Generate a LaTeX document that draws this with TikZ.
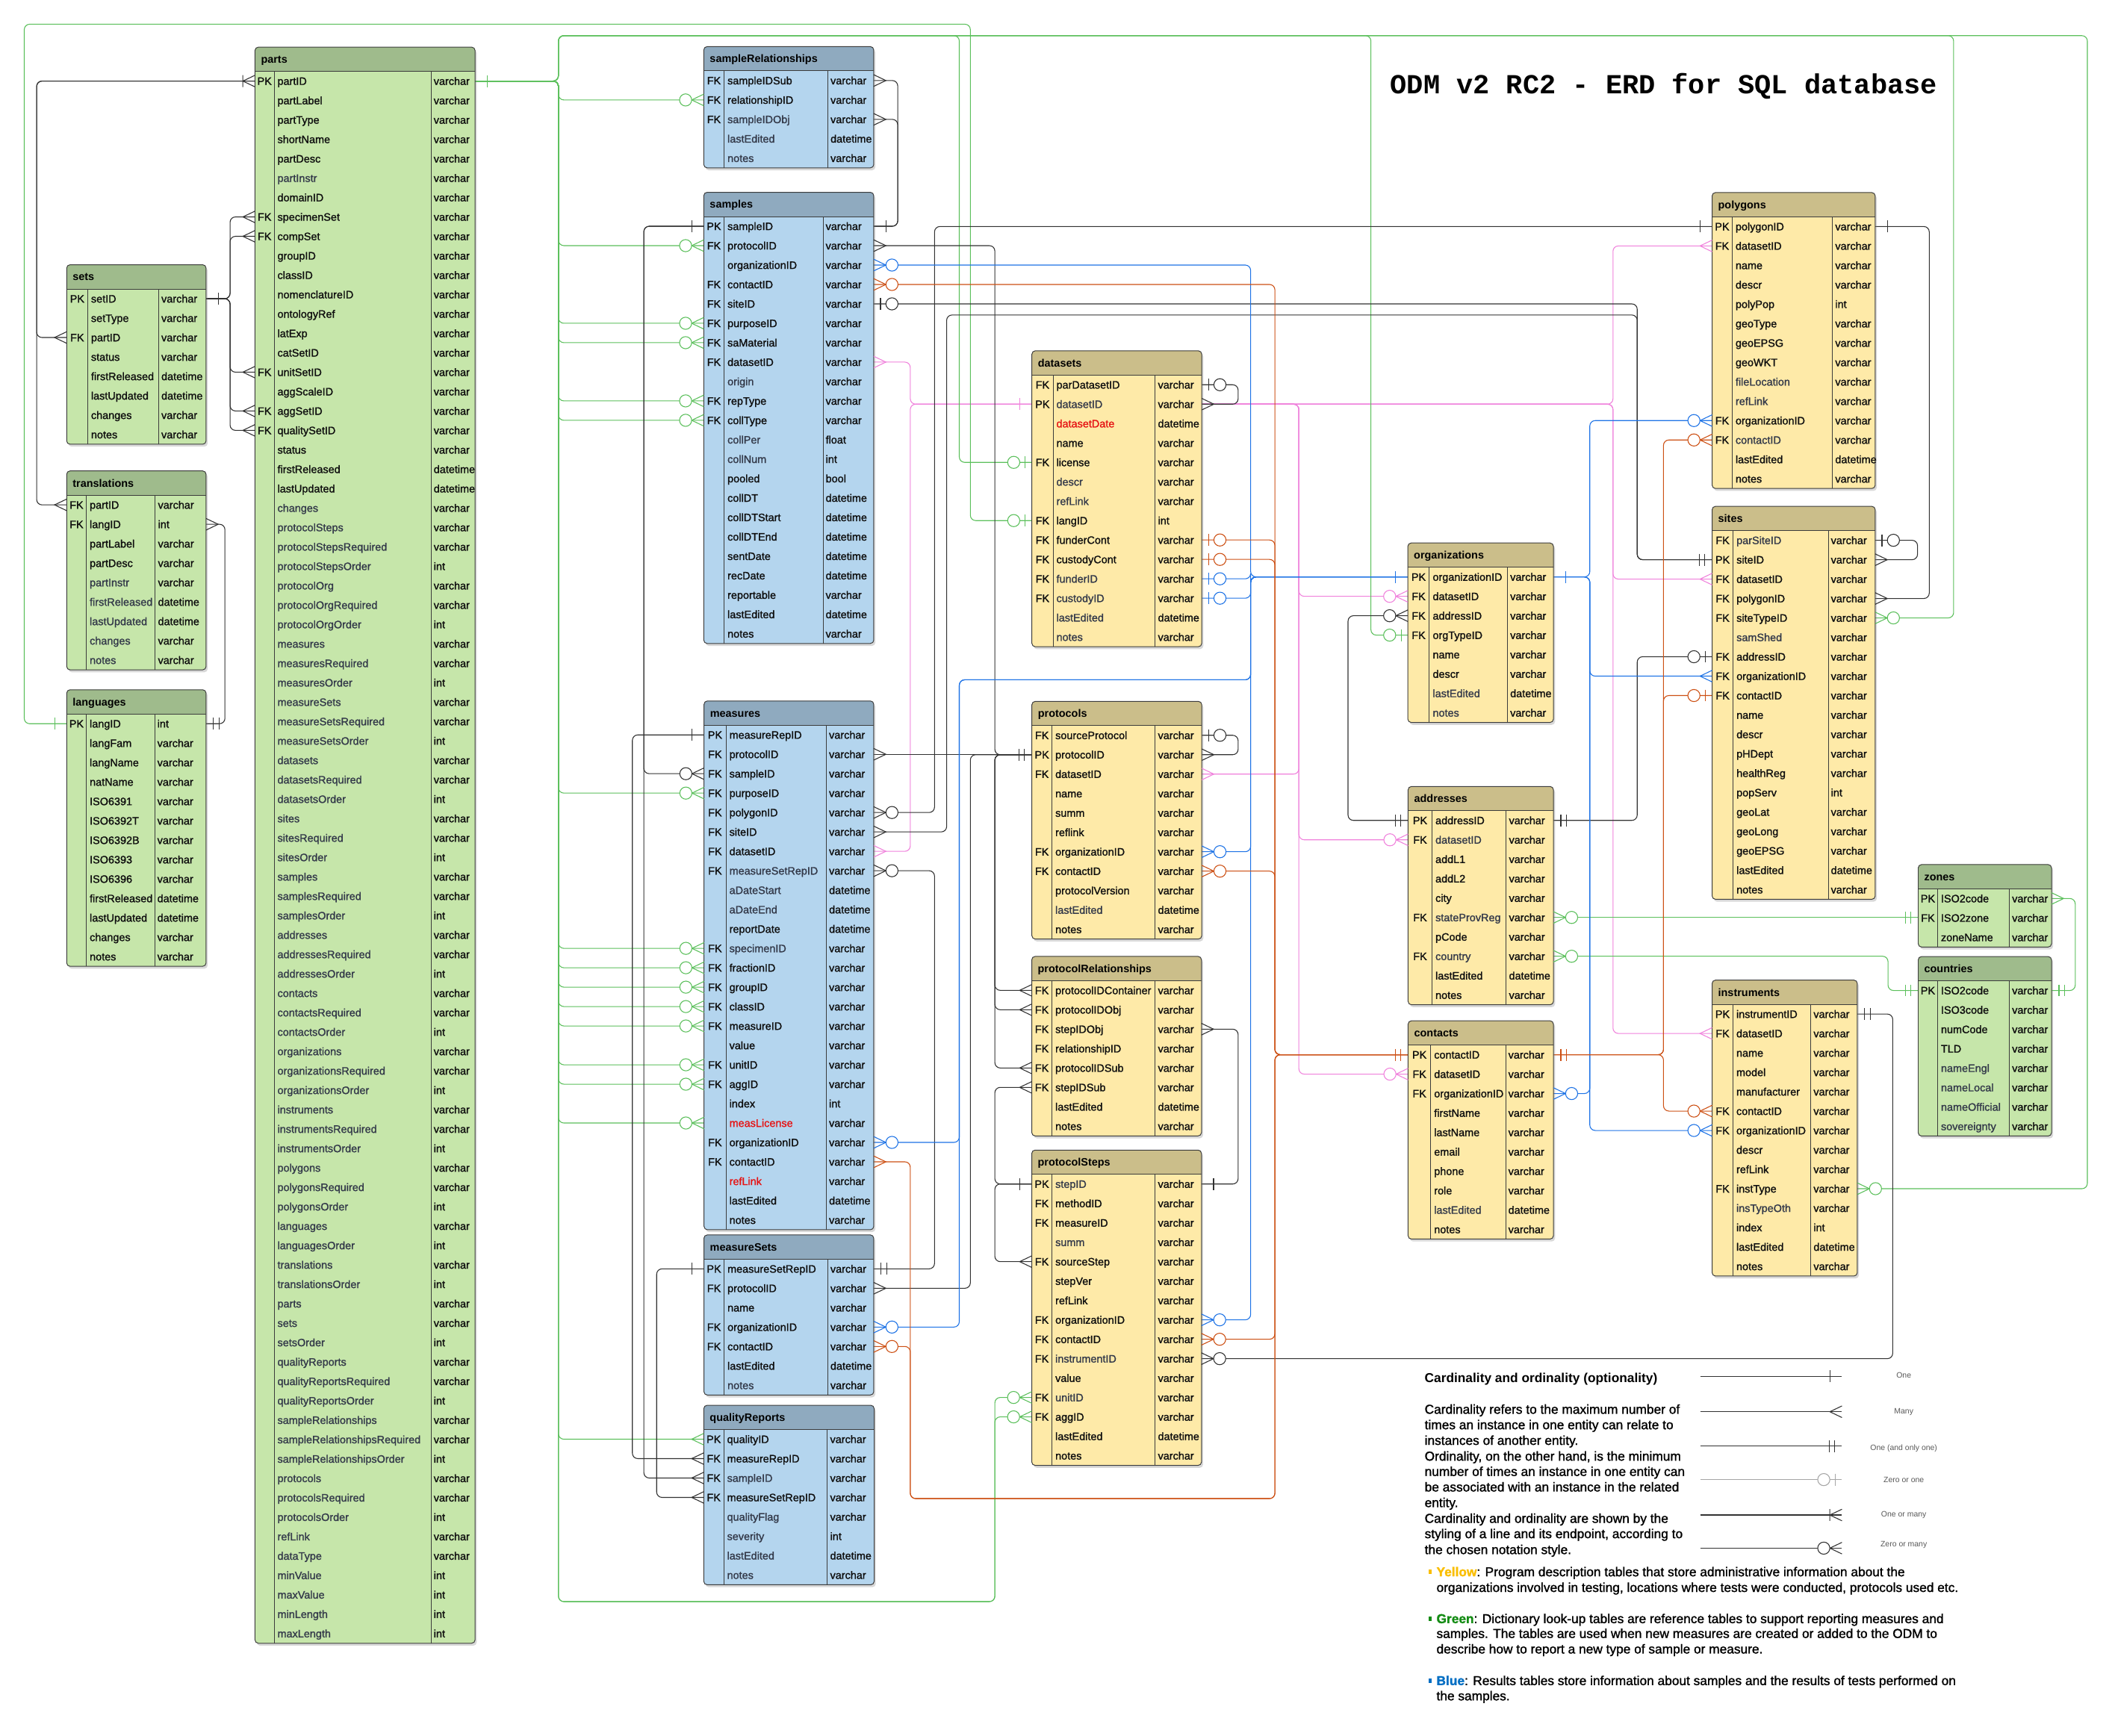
\documentclass[tikz,border=0pt]{standalone}
\usepackage{fontspec}
\setmainfont{Liberation Sans}
\newfontfamily\erdfont{Liberation Sans}[FakeBold=1.4]
\newfontfamily\titlefont{Liberation Mono}
\usetikzlibrary{shadows}
\pgfdeclarelayer{bg}
\pgfsetlayers{bg,main}
\definecolor{gbody}{RGB}{198,230,170}
\definecolor{ghead}{RGB}{159,187,140}
\definecolor{bbody}{RGB}{180,213,238}
\definecolor{bhead}{RGB}{143,170,191}
\definecolor{ybody}{RGB}{254,234,168}
\definecolor{yhead}{RGB}{203,190,138}
\definecolor{bordc}{RGB}{60,60,60}
\definecolor{nt}{RGB}{15,15,15}
\definecolor{gt}{RGB}{52,58,74}
\definecolor{rt}{RGB}{230,20,20}
\definecolor{gcol}{RGB}{92,192,92}
\definecolor{bcol}{RGB}{50,50,50}
\definecolor{ucol}{RGB}{30,115,230}
\definecolor{ocol}{RGB}{205,80,20}
\definecolor{pcol}{RGB}{240,130,220}
\definecolor{lyel}{RGB}{250,190,0}
\definecolor{lgre}{RGB}{20,140,20}
\definecolor{lblu}{RGB}{0,110,195}
\tikzset{
 tborder/.style={draw=bordc, line width=0.55pt},
 titletext/.style={inner sep=0pt, outer sep=0pt, anchor=west, text height=5.7pt, text depth=0pt, font=\bfseries\fontsize{8}{9}\selectfont, text=black},
 rowtext/.style={inner sep=0pt, outer sep=0pt, anchor=west, text height=5.7pt, text depth=0pt, font=\erdfont\fontsize{8}{9}\selectfont, text=nt},
 conn/.style={line width=0.6pt, rounded corners=4pt},
 gconn/.style={conn, draw=gcol},
 bconn/.style={conn, draw=bcol},
 uconn/.style={conn, draw=ucol},
 oconn/.style={conn, draw=ocol},
 pconn/.style={conn, draw=pcol},
 lgtext/.style={inner sep=0pt, outer sep=0pt, anchor=base west, font=\erdfont\fontsize{9.6}{11}\selectfont},
 lglabel/.style={inner sep=0pt, outer sep=0pt, anchor=center, font=\fontsize{5.8}{6.5}\selectfont, text=black!65},
}
% #1 name #2 left #3 top #4 right #5 keydiv #6 typediv #7 scheme #8 title #9 rows
\newcommand\erdtable[9]{%
  \gdef\erdn{0}%
  \foreach \erdk/\erdv/\erdt/\erdc [count=\erdi] in {#9}{\xdef\erdn{\erdi}}%
  \pgfmathsetmacro\erdhb{#3+18}%
  \pgfmathsetmacro\erdbot{#3+18+\erdn*14.41}%
  \fill[#7body, rounded corners=2.5pt, drop shadow={shadow xshift=1.2pt, shadow yshift=-1.8pt, opacity=0.3}] (#2,#3) rectangle (#4,\erdbot);
  \begin{scope}
    \clip (#2-2,#3-2) rectangle (#4+2,\erdhb);
    \fill[#7head, rounded corners=2.5pt] (#2,#3) rectangle (#4,\erdbot);
  \end{scope}
  \draw[tborder] (#2,\erdhb) -- (#4,\erdhb) (#5,\erdhb) -- (#5,\erdbot) (#6,\erdhb) -- (#6,\erdbot);
  \draw[tborder, rounded corners=2.5pt] (#2,#3) rectangle (#4,\erdbot);
  \node[titletext] (#1-title) at (#2+4.5,#3+9) {#8};
  \foreach \erdk/\erdv/\erdt/\erdc [count=\erdi] in {#9}{%
    \pgfmathsetmacro\erdy{\erdhb+(\erdi-0.5)*14.41}%
    \coordinate (#1-\erdi-w) at (#2,\erdy);
    \coordinate (#1-\erdi-e) at (#4,\erdy);
    \node[rowtext, anchor=center] (#1-k\erdi) at ({(#2+#5)/2},\erdy) {\erdk};
    \node[rowtext, text=\erdc] (#1-n\erdi) at (#5+2.5,\erdy) {\erdv};
    \node[rowtext] (#1-t\erdi) at (#6+2,\erdy) {\erdt};
  }%
}
\newcommand\erdsymone{\draw (9,-4.4) -- (9,4.4);}
\newcommand\erdsymoneonly{\draw (5.5,-4.4) -- (5.5,4.4) (9.5,-4.4) -- (9.5,4.4);}
\newcommand\erdsymmany{\draw (0,-4.3) -- (9,0) -- (0,4.3);}
\newcommand\erdsymonemany{\draw (0,-4.3) -- (9,0) -- (0,4.3) (9,-4.4) -- (9,4.4);}
\newcommand\erdsymzeromany{\draw (0,-4.3) -- (9,0) -- (0,4.3); \draw[fill=white] (13.5,0) circle[radius=4.5];}
\newcommand\erdsymzeroone{\draw (5,-4.4) -- (5,4.4); \draw[fill=white] (13.5,0) circle[radius=4.5];}
\newcommand\erdend[4]{%
  \begin{scope}[shift={(#1)}, xscale=#2, line width=0.6pt, draw=#4]
    \csname erdsym#3\endcsname
  \end{scope}}
\newcommand\erdends[4]{\foreach \endc in {#4}{\erdend{\endc}{#2}{#3}{#1}}}
\newcommand\viaX[4][]{\draw[#1] (#2) -- (#2 -| #3) -- (#4 -| #3) -- (#4);}
\begin{document}
\begin{tikzpicture}[x=1pt,y=-1pt]
\useasboundingbox (0,0) rectangle (1568,1289.1);
\begin{pgfonlayer}{bg}
\fill[white] (0,0) rectangle (1568,1289.1);
\end{pgfonlayer}
% ================= tables =================
\erdtable{parts}{189.3}{35}{352.7}{203.5}{320}{g}{parts}{%
PK/partID/varchar/nt,/partLabel/varchar/nt,/partType/varchar/nt,/shortName/varchar/nt,/partDesc/varchar/nt,/partInstr/varchar/gt,/domainID/varchar/nt,FK/specimenSet/varchar/nt,FK/compSet/varchar/nt,/groupID/varchar/nt,/classID/varchar/nt,/nomenclatureID/varchar/nt,/ontologyRef/varchar/nt,/latExp/varchar/nt,/catSetID/varchar/nt,FK/unitSetID/varchar/nt,/aggScaleID/varchar/nt,FK/aggSetID/varchar/nt,FK/qualitySetID/varchar/nt,/status/varchar/nt,/firstReleased/datetime/nt,/lastUpdated/datetime/nt,/changes/varchar/gt,/protocolSteps/varchar/gt,/protocolStepsRequired/varchar/gt,/protocolStepsOrder/int/gt,/protocolOrg/varchar/gt,/protocolOrgRequired/varchar/gt,/protocolOrgOrder/int/gt,/measures/varchar/gt,/measuresRequired/varchar/gt,/measuresOrder/int/gt,/measureSets/varchar/gt,/measureSetsRequired/varchar/gt,/measureSetsOrder/int/gt,/datasets/varchar/gt,/datasetsRequired/varchar/gt,/datasetsOrder/int/gt,/sites/varchar/gt,/sitesRequired/varchar/gt,/sitesOrder/int/gt,/samples/varchar/gt,/samplesRequired/varchar/gt,/samplesOrder/int/gt,/addresses/varchar/gt,/addressesRequired/varchar/gt,/addressesOrder/int/gt,/contacts/varchar/gt,/contactsRequired/varchar/gt,/contactsOrder/int/gt,/organizations/varchar/gt,/organizationsRequired/varchar/gt,/organizationsOrder/int/gt,/instruments/varchar/gt,/instrumentsRequired/varchar/gt,/instrumentsOrder/int/gt,/polygons/varchar/gt,/polygonsRequired/varchar/gt,/polygonsOrder/int/gt,/languages/varchar/gt,/languagesOrder/int/gt,/translations/varchar/gt,/translationsOrder/int/gt,/parts/varchar/gt,/sets/varchar/gt,/setsOrder/int/gt,/qualityReports/varchar/gt,/qualityReportsRequired/varchar/gt,/qualityReportsOrder/int/gt,/sampleRelationships/varchar/gt,/sampleRelationshipsRequired/varchar/gt,/sampleRelationshipsOrder/int/gt,/protocols/varchar/gt,/protocolsRequired/varchar/gt,/protocolsOrder/int/gt,/refLink/varchar/gt,/dataType/varchar/gt,/minValue/int/gt,/maxValue/int/gt,/minLength/int/gt,/maxLength/int/gt}
\erdtable{sets}{49.5}{196.6}{153}{65.1}{117.8}{g}{sets}{%
PK/setID/varchar/nt,/setType/varchar/nt,FK/partID/varchar/nt,/status/varchar/nt,/firstReleased/datetime/nt,/lastUpdated/datetime/nt,/changes/varchar/nt,/notes/varchar/nt}
\erdtable{translations}{49.5}{349.7}{153}{64.1}{115.3}{g}{translations}{%
FK/partID/varchar/nt,FK/langID/int/nt,/partLabel/varchar/nt,/partDesc/varchar/nt,/partInstr/varchar/gt,/firstReleased/datetime/gt,/lastUpdated/datetime/gt,/changes/varchar/gt,/notes/varchar/gt}
\erdtable{languages}{49.5}{512.2}{153}{64.1}{114.8}{g}{languages}{%
PK/langID/int/nt,/langFam/varchar/nt,/langName/varchar/nt,/natName/varchar/nt,/ISO6391/varchar/nt,/ISO6392T/varchar/nt,/ISO6392B/varchar/nt,/ISO6393/varchar/nt,/ISO6396/varchar/nt,/firstReleased/datetime/nt,/lastUpdated/datetime/nt,/changes/varchar/nt,/notes/varchar/nt}
\erdtable{sampleRelationships}{522.5}{34.6}{648.7}{537.6}{614.6}{b}{sampleRelationships}{%
FK/sampleIDSub/varchar/nt,FK/relationshipID/varchar/nt,FK/sampleIDObj/varchar/gt,/lastEdited/datetime/gt,/notes/varchar/gt}
\erdtable{samples}{522.5}{142.8}{648.7}{537.6}{611}{b}{samples}{%
PK/sampleID/varchar/nt,FK/protocolID/varchar/nt,/organizationID/varchar/nt,FK/contactID/varchar/nt,FK/siteID/varchar/nt,FK/purposeID/varchar/nt,FK/saMaterial/varchar/nt,FK/datasetID/varchar/nt,/origin/varchar/gt,FK/repType/varchar/nt,FK/collType/varchar/nt,/collPer/float/gt,/collNum/int/gt,/pooled/bool/nt,/collDT/datetime/nt,/collDTStart/datetime/nt,/collDTEnd/datetime/nt,/sentDate/datetime/nt,/recDate/datetime/nt,/reportable/varchar/nt,/lastEdited/datetime/nt,/notes/varchar/nt}
\erdtable{measures}{522.7}{520.5}{648.7}{539}{613.5}{b}{measures}{%
PK/measureRepID/varchar/nt,FK/protocolID/varchar/nt,FK/sampleID/varchar/nt,FK/purposeID/varchar/nt,FK/polygonID/varchar/nt,FK/siteID/varchar/nt,FK/datasetID/varchar/nt,FK/measureSetRepID/varchar/gt,/aDateStart/datetime/gt,/aDateEnd/datetime/gt,/reportDate/datetime/nt,FK/specimenID/varchar/gt,FK/fractionID/varchar/nt,FK/groupID/varchar/nt,FK/classID/varchar/nt,FK/measureID/varchar/nt,/value/varchar/nt,FK/unitID/varchar/nt,FK/aggID/varchar/nt,/index/int/nt,/measLicense/varchar/rt,FK/organizationID/varchar/nt,FK/contactID/varchar/nt,/refLink/varchar/rt,/lastEdited/datetime/nt,/notes/varchar/nt}
\erdtable{measureSets}{522.6}{917}{648.7}{537.6}{614.5}{b}{measureSets}{%
PK/measureSetRepID/varchar/nt,FK/protocolID/varchar/nt,/name/varchar/nt,FK/organizationID/varchar/nt,FK/contactID/varchar/nt,/lastEdited/datetime/nt,/notes/varchar/gt}
\erdtable{qualityReports}{522.5}{1043.5}{649}{537.3}{614.3}{b}{qualityReports}{%
PK/qualityID/varchar/nt,FK/measureRepID/varchar/nt,FK/sampleID/varchar/gt,FK/measureSetRepID/varchar/nt,/qualityFlag/varchar/gt,/severity/int/gt,/lastEdited/datetime/gt,/notes/varchar/gt}
\erdtable{datasets}{766.1}{260.5}{892.2}{781.8}{857.7}{y}{datasets}{%
FK/parDatasetID/varchar/nt,PK/datasetID/varchar/gt,/datasetDate/datetime/rt,/name/varchar/nt,FK/license/varchar/nt,/descr/varchar/gt,/refLink/varchar/gt,FK/langID/int/nt,FK/funderCont/varchar/nt,FK/custodyCont/varchar/nt,FK/funderID/varchar/gt,FK/custodyID/varchar/gt,/lastEdited/datetime/gt,/notes/varchar/gt}
\erdtable{protocols}{766.1}{520.8}{892.2}{781}{857.7}{y}{protocols}{%
FK/sourceProtocol/varchar/nt,PK/protocolID/varchar/nt,FK/datasetID/varchar/nt,/name/varchar/nt,/summ/varchar/nt,/reflink/varchar/nt,FK/organizationID/varchar/nt,FK/contactID/varchar/nt,/protocolVersion/varchar/nt,/lastEdited/datetime/gt,/notes/varchar/nt}
\erdtable{protocolRelationships}{766}{710.2}{892}{781}{857.7}{y}{protocolRelationships}{%
FK/protocolIDContainer/varchar/nt,FK/protocolIDObj/varchar/nt,FK/stepIDObj/varchar/nt,FK/relationshipID/varchar/nt,FK/protocolIDSub/varchar/nt,FK/stepIDSub/varchar/nt,/lastEdited/datetime/nt,/notes/varchar/nt}
\erdtable{protocolSteps}{766}{854}{892}{781}{857.7}{y}{protocolSteps}{%
PK/stepID/varchar/gt,FK/methodID/varchar/nt,FK/measureID/varchar/nt,/summ/varchar/gt,FK/sourceStep/varchar/nt,/stepVer/varchar/nt,/refLink/varchar/nt,FK/organizationID/varchar/nt,FK/contactID/varchar/nt,FK/instrumentID/varchar/gt,/value/varchar/nt,FK/unitID/varchar/gt,FK/aggID/varchar/nt,/lastEdited/datetime/nt,/notes/varchar/nt}
\erdtable{organizations}{1045.2}{403.2}{1153.3}{1061.2}{1119.2}{y}{organizations}{%
PK/organizationID/varchar/nt,FK/datasetID/varchar/nt,FK/addressID/varchar/nt,FK/orgTypeID/varchar/nt,/name/varchar/nt,/descr/varchar/nt,/lastEdited/datetime/gt,/notes/varchar/gt}
\erdtable{addresses}{1045.4}{584}{1153.3}{1063.2}{1118.3}{y}{addresses}{%
PK/addressID/varchar/nt,FK/datasetID/varchar/gt,/addL1/varchar/nt,/addL2/varchar/nt,/city/varchar/nt,FK/stateProvReg/varchar/gt,/pCode/varchar/nt,FK/country/varchar/gt,/lastEdited/datetime/nt,/notes/varchar/nt}
\erdtable{contacts}{1045.4}{758}{1153.3}{1062.2}{1117.8}{y}{contacts}{%
PK/contactID/varchar/nt,FK/datasetID/varchar/nt,FK/organizationID/varchar/nt,/firstName/varchar/nt,/lastName/varchar/nt,/email/varchar/nt,/phone/varchar/nt,/role/varchar/nt,/lastEdited/datetime/gt,/notes/varchar/nt}
\erdtable{polygons}{1271.1}{143}{1392.2}{1286}{1360.5}{y}{polygons}{%
PK/polygonID/varchar/nt,FK/datasetID/varchar/nt,/name/varchar/nt,/descr/varchar/nt,/polyPop/int/nt,/geoType/varchar/nt,/geoEPSG/varchar/nt,/geoWKT/varchar/nt,/fileLocation/varchar/gt,/refLink/varchar/gt,FK/organizationID/varchar/nt,FK/contactID/varchar/gt,/lastEdited/datetime/nt,/notes/varchar/nt}
\erdtable{sites}{1271.1}{376}{1392.2}{1286.7}{1357.3}{y}{sites}{%
FK/parSiteID/varchar/gt,PK/siteID/varchar/nt,FK/datasetID/varchar/nt,FK/polygonID/varchar/nt,FK/siteTypeID/varchar/nt,/samShed/varchar/gt,FK/addressID/varchar/nt,FK/organizationID/varchar/nt,FK/contactID/varchar/nt,/name/varchar/nt,/descr/varchar/nt,/pHDept/varchar/nt,/healthReg/varchar/nt,/popServ/int/nt,/geoLat/varchar/nt,/geoLong/varchar/nt,/geoEPSG/varchar/nt,/lastEdited/datetime/nt,/notes/varchar/nt}
\erdtable{instruments}{1271.1}{727.8}{1378.9}{1286.6}{1344.4}{y}{instruments}{%
PK/instrumentID/varchar/nt,FK/datasetID/varchar/nt,/name/varchar/nt,/model/varchar/nt,/manufacturer/varchar/nt,FK/contactID/varchar/nt,FK/organizationID/varchar/nt,/descr/varchar/nt,/refLink/varchar/nt,FK/instType/varchar/nt,/insTypeOth/varchar/gt,/index/int/nt,/lastEdited/datetime/nt,/notes/varchar/nt}
\erdtable{zones}{1424.1}{642}{1523.1}{1438.5}{1491.8}{g}{zones}{%
PK/ISO2code/varchar/nt,FK/ISO2zone/varchar/nt,/zoneName/varchar/nt}
\erdtable{countries}{1424.1}{710.3}{1523.1}{1438.5}{1491.8}{g}{countries}{%
PK/ISO2code/varchar/nt,/ISO3code/varchar/nt,/numCode/varchar/nt,/TLD/varchar/nt,/nameEngl/varchar/gt,/nameLocal/varchar/gt,/nameOfficial/varchar/gt,/sovereignty/varchar/gt}
% ================= title =================
\node[inner sep=0pt, anchor=west, font=\titlefont\bfseries\fontsize{20.5}{22}\selectfont] (title) at (1032,64) {ODM v2 RC2 - ERD for SQL database};
% ================= routing levels =================
\foreach \nm/\xv in {X18/18,X27/27.2,X167/167,X171/170.8,X414/414.6,X469/469.5,X478/478,X487/487.5,X666/666.5,X676/675.8,X694/693.8,X703/702.8,X712/712.2,X720/720.4,X738/738.6,X919/919.2,X928/928.5,X946/946.5,X964/964.3,X1001/1000.8,X1018/1017.8,X1180/1180.3,X1197/1197.5,X1215/1215.5,X1235/1235,X1402/1401.7,X1405/1405.2,X1424/1423.6,X1432/1432.3,X1450/1450.4,X1541/1540.7,X1550/1549.7}{\coordinate (\nm) at (\xv,0);}
\foreach \nm/\yv in {Y18/18,Y26/26.5,Y234/233.9,Y505/504.8,Y1113/1112.8,Y1189/1189.3}{\coordinate (\nm) at (0,\yv);}
% ================= connectors =================
\begin{pgfonlayer}{bg}
% ---- pink (datasets)
\viaX[pconn]{datasets-2-w}{X676}{samples-8-e}
\viaX[pconn]{datasets-2-w}{X676}{measures-7-e}
\viaX[pconn]{datasets-2-e}{X1197}{polygons-2-w}
\viaX[pconn]{datasets-2-e}{X1197}{sites-3-w}
\viaX[pconn]{datasets-2-e}{X1197}{instruments-2-w}
\viaX[pconn]{datasets-2-e}{X964}{organizations-2-w}
\viaX[pconn]{datasets-2-e}{X964}{protocols-3-e}
\viaX[pconn]{datasets-2-e}{X964}{addresses-2-w}
\viaX[pconn]{datasets-2-e}{X964}{contacts-2-w}
% ---- green (dictionary)
\foreach \r in {2,6,7,10,11}{\viaX[gconn]{parts-1-e}{X414}{samples-\r-w}}
\viaX[gconn]{parts-1-e}{X414}{sampleRelationships-2-w}
\foreach \r in {4,12,13,14,15,16,18,19,21}{\viaX[gconn]{parts-1-e}{X414}{measures-\r-w}}
\viaX[gconn]{parts-1-e}{X414}{qualityReports-1-w}
\draw[gconn] (parts-1-e) -- (parts-1-e -| X414) -- (X414 |- Y1189) -- (X738 |- Y1189) -- (protocolSteps-12-w -| X738) -- (protocolSteps-12-w);
\draw[gconn] (parts-1-e) -- (parts-1-e -| X414) -- (X414 |- Y1189) -- (X738 |- Y1189) -- (protocolSteps-13-w -| X738) -- (protocolSteps-13-w);
\draw[gconn] (parts-1-e) -- (parts-1-e -| X414) -- (X414 |- Y26) -- (X712 |- Y26) -- (datasets-5-w -| X712) -- (datasets-5-w);
\draw[gconn] (parts-1-e) -- (parts-1-e -| X414) -- (X414 |- Y26) -- (X1018 |- Y26) -- (organizations-4-w -| X1018) -- (organizations-4-w);
\draw[gconn] (parts-1-e) -- (parts-1-e -| X414) -- (X414 |- Y26) -- (X1450 |- Y26) -- (sites-5-e -| X1450) -- (sites-5-e);
\draw[gconn] (parts-1-e) -- (parts-1-e -| X414) -- (X414 |- Y26) -- (X1550 |- Y26) -- (instruments-10-e -| X1550) -- (instruments-10-e);
\draw[gconn] (languages-1-w) -- (languages-1-w -| X18) -- (X18 |- Y18) -- (X720 |- Y18) -- (datasets-8-w -| X720) -- (datasets-8-w);
\draw[gconn] (addresses-6-e) -- (addresses-6-e -| zones-2-w);
\viaX[gconn]{addresses-8-e}{X1402}{countries-1-w}
\viaX[gconn]{zones-1-e}{X1541}{countries-1-e}
% ---- black
\viaX[bconn]{parts-1-w}{X27}{sets-3-w}
\viaX[bconn]{parts-1-w}{X27}{translations-1-w}
\foreach \r in {8,9,16,18,19}{\viaX[bconn]{sets-1-e}{X171}{parts-\r-w}}
\viaX[bconn]{languages-1-e}{X167}{translations-2-e}
\viaX[bconn]{samples-1-e}{X666}{sampleRelationships-1-e}
\viaX[bconn]{samples-1-e}{X666}{sampleRelationships-3-e}
\viaX[bconn]{samples-1-w}{X478}{measures-3-w}
\viaX[bconn]{samples-1-w}{X478}{qualityReports-3-w}
\viaX[bconn]{measures-1-w}{X469}{qualityReports-2-w}
\viaX[bconn]{measureSets-1-w}{X487}{qualityReports-4-w}
\viaX[bconn]{measureSets-1-e}{X694}{measures-8-e}
\draw[bconn] (measures-2-e) -- (measures-2-e -| protocols-2-w);
\viaX[bconn]{protocols-2-w}{X738}{samples-2-e}
\viaX[bconn]{protocols-2-w}{X720}{measureSets-2-e}
\foreach \r in {1,2,5}{\viaX[bconn]{protocols-2-w}{X738}{protocolRelationships-\r-w}}
\viaX[bconn]{protocolSteps-1-w}{X738}{protocolRelationships-6-w}
\viaX[bconn]{protocolSteps-1-w}{X738}{protocolSteps-5-w}
\viaX[bconn]{protocolSteps-1-e}{X919}{protocolRelationships-3-e}
\viaX[bconn]{protocols-1-e}{X919}{protocols-2-e}
\viaX[bconn]{datasets-1-e}{X919}{datasets-2-e}
\viaX[bconn]{sites-2-w}{X1215}{samples-5-e}
\draw[bconn] (sites-2-w) -- (sites-2-w -| X1215) -- (X1215 |- Y234) -- (X703 |- Y234) -- (measures-6-e -| X703) -- (measures-6-e);
\viaX[bconn]{polygons-1-w}{X694}{measures-5-e}
\viaX[bconn]{polygons-1-e}{X1432}{sites-4-e}
\viaX[bconn]{sites-1-e}{X1424}{sites-2-e}
\viaX[bconn]{addresses-1-w}{X1001}{organizations-3-w}
\viaX[bconn]{addresses-1-e}{X1215}{sites-7-w}
\viaX[bconn]{instruments-1-e}{X1405}{protocolSteps-10-e}
% ---- blue (organizations)
\viaX[uconn]{organizations-1-w}{X928}{samples-3-e}
\viaX[uconn]{organizations-1-w}{X928}{datasets-11-e}
\viaX[uconn]{organizations-1-w}{X928}{datasets-12-e}
\viaX[uconn]{organizations-1-w}{X928}{protocols-7-e}
\viaX[uconn]{organizations-1-w}{X928}{protocolSteps-8-e}
\draw[uconn] (organizations-1-w) -- (organizations-1-w -| X928) -- (X928 |- Y505) -- (X712 |- Y505) -- (measures-22-e -| X712) -- (measures-22-e);
\draw[uconn] (organizations-1-w) -- (organizations-1-w -| X928) -- (X928 |- Y505) -- (X712 |- Y505) -- (measureSets-4-e -| X712) -- (measureSets-4-e);
\viaX[uconn]{organizations-1-e}{X1180}{polygons-11-w}
\viaX[uconn]{organizations-1-e}{X1180}{sites-8-w}
\viaX[uconn]{organizations-1-e}{X1180}{contacts-3-e}
\viaX[uconn]{organizations-1-e}{X1180}{instruments-7-w}
% ---- orange (contacts)
\viaX[oconn]{contacts-1-w}{X946}{samples-4-e}
\viaX[oconn]{contacts-1-w}{X946}{datasets-9-e}
\viaX[oconn]{contacts-1-w}{X946}{datasets-10-e}
\viaX[oconn]{contacts-1-w}{X946}{protocols-8-e}
\viaX[oconn]{contacts-1-w}{X946}{protocolSteps-9-e}
\draw[oconn] (contacts-1-w) -- (contacts-1-w -| X946) -- (X946 |- Y1113) -- (X676 |- Y1113) -- (measures-23-e -| X676) -- (measures-23-e);
\draw[oconn] (contacts-1-w) -- (contacts-1-w -| X946) -- (X946 |- Y1113) -- (X676 |- Y1113) -- (measureSets-5-e -| X676) -- (measureSets-5-e);
\viaX[oconn]{contacts-1-e}{X1235}{polygons-12-w}
\viaX[oconn]{contacts-1-e}{X1235}{sites-9-w}
\viaX[oconn]{contacts-1-e}{X1235}{instruments-6-w}
\end{pgfonlayer}
% ================= end symbols =================
\erdends{gcol}{1}{one}{parts-1-e}
\erdends{gcol}{-1}{zeromany}{samples-2-w,samples-6-w,samples-7-w,samples-10-w,samples-11-w,sampleRelationships-2-w,measures-4-w,measures-12-w,measures-13-w,measures-14-w,measures-15-w,measures-16-w,measures-18-w,measures-19-w,measures-21-w,protocolSteps-12-w,protocolSteps-13-w}
\erdends{gcol}{-1}{many}{qualityReports-1-w}
\erdends{gcol}{-1}{zeroone}{datasets-5-w,datasets-8-w,organizations-4-w}
\erdends{gcol}{1}{zeromany}{sites-5-e,instruments-10-e,addresses-6-e,addresses-8-e}
\erdends{gcol}{-1}{one}{languages-1-w}
\erdends{gcol}{-1}{oneonly}{zones-2-w,countries-1-w}
\erdends{gcol}{1}{many}{zones-1-e}
\erdends{gcol}{1}{oneonly}{countries-1-e}
\erdends{bcol}{-1}{onemany}{parts-1-w}
\erdends{bcol}{-1}{many}{sets-3-w,translations-1-w,parts-8-w,parts-9-w,parts-16-w,parts-18-w,parts-19-w,qualityReports-2-w,qualityReports-3-w,qualityReports-4-w,protocolRelationships-1-w,protocolRelationships-2-w,protocolRelationships-5-w,protocolRelationships-6-w,protocolSteps-5-w}
\erdends{bcol}{1}{one}{sets-1-e,samples-1-e,polygons-1-e,protocolSteps-1-e}
\erdends{bcol}{-1}{one}{samples-1-w,measures-1-w,measureSets-1-w,protocolSteps-1-w,polygons-1-w}
\erdends{bcol}{1}{many}{translations-2-e,sampleRelationships-1-e,sampleRelationships-3-e,samples-2-e,measures-2-e,measureSets-2-e,protocolRelationships-3-e,protocols-2-e,datasets-2-e,measures-6-e,sites-4-e,sites-2-e}
\erdends{bcol}{1}{oneonly}{languages-1-e,measureSets-1-e,addresses-1-e,instruments-1-e}
\erdends{bcol}{-1}{zeromany}{measures-3-w,organizations-3-w}
\erdends{bcol}{1}{zeromany}{measures-8-e,measures-5-e,protocolSteps-10-e}
\erdends{bcol}{-1}{oneonly}{protocols-2-w,sites-2-w,addresses-1-w}
\erdends{bcol}{1}{zeroone}{protocols-1-e,datasets-1-e,samples-5-e,sites-1-e}
\erdends{bcol}{-1}{zeroone}{sites-7-w}
\erdends{ucol}{1}{zeromany}{samples-3-e,protocols-7-e,protocolSteps-8-e,measures-22-e,measureSets-4-e,contacts-3-e}
\erdends{ucol}{1}{zeroone}{datasets-11-e,datasets-12-e}
\erdends{ucol}{-1}{one}{organizations-1-w}
\erdends{ucol}{1}{one}{organizations-1-e}
\erdends{ucol}{-1}{zeromany}{polygons-11-w,instruments-7-w}
\erdends{ucol}{-1}{many}{sites-8-w}
\erdends{ocol}{-1}{oneonly}{contacts-1-w}
\erdends{ocol}{1}{oneonly}{contacts-1-e}
\erdends{ocol}{1}{zeromany}{samples-4-e,protocols-8-e,protocolSteps-9-e,measureSets-5-e}
\erdends{ocol}{1}{zeroone}{datasets-9-e,datasets-10-e}
\erdends{ocol}{1}{many}{measures-23-e}
\erdends{ocol}{-1}{zeromany}{polygons-12-w,instruments-6-w}
\erdends{ocol}{-1}{zeroone}{sites-9-w}
\erdends{pcol}{-1}{one}{datasets-2-w}
\erdends{pcol}{1}{many}{samples-8-e,measures-7-e,protocols-3-e}
\erdends{pcol}{-1}{many}{polygons-2-w,sites-3-w,instruments-2-w}
\erdends{pcol}{-1}{zeromany}{organizations-2-w,addresses-2-w,contacts-2-w}
% ================= legend =================
\node[lgtext, font=\bfseries\fontsize{9.6}{11}\selectfont] (lgh) at (1057.7,1026.4) {Cardinality and ordinality (optionality)};
\node[lgtext] (lt1) at (1057.7,1049.8) {Cardinality refers to the maximum number of};
\node[lgtext] (lt2) at (1057.7,1061.3) {times an instance in one entity can relate to};
\node[lgtext] (lt3) at (1057.7,1072.9) {instances of another entity.};
\node[lgtext] (lt4) at (1057.7,1084.6) {Ordinality, on the other hand, is the minimum};
\node[lgtext] (lt5) at (1057.7,1096.0) {number of times an instance in one entity can};
\node[lgtext] (lt6) at (1057.7,1107.5) {be associated with an instance in the related};
\node[lgtext] (lt7) at (1057.7,1119.1) {entity.};
\node[lgtext] (lt8) at (1057.7,1130.8) {Cardinality and ordinality are shown by the};
\node[lgtext] (lt9) at (1057.7,1142.2) {styling of a line and its endpoint, according to};
\node[lgtext] (lt10) at (1057.7,1154.0) {the chosen notation style.};
\fill[lyel] (1060.8,1165.4) rectangle (1063,1169.0);
\node[lgtext] (ly1) at (1066.5,1170.5) {\textcolor{lyel}{\bfseries Yellow}: Program description tables that store administrative information about the};
\node[lgtext] (ly2) at (1066.5,1182.1) {organizations involved in testing, locations where tests were conducted, protocols used etc.};
\fill[lgre] (1060.8,1200.2) rectangle (1063,1203.8);
\node[lgtext] (lg1) at (1066.5,1205.3) {\textcolor{lgre}{\bfseries Green}: Dictionary look-up tables are reference tables to support reporting measures and};
\node[lgtext] (lg2) at (1066.5,1216.3) {samples. The tables are used when new measures are created or added to the ODM to};
\node[lgtext] (lg3) at (1066.5,1227.8) {describe how to report a new type of sample or measure.};
\fill[lblu] (1060.8,1246.2) rectangle (1063,1249.8);
\node[lgtext] (lb1) at (1066.5,1251.3) {\textcolor{lblu}{\bfseries Blue}: Results tables store information about samples and the results of tests performed on};
\node[lgtext] (lb2) at (1066.5,1262.6) {the samples.};
\foreach \i/\yv/\ty/\lab/\ly/\lc in {1/1022/one/One/1021.3/bcol,2/1048.3/many/Many/1048.3/bcol,3/1073.8/oneonly/One (and only one)/1075.3/bcol,4/1098.7/zeroone/Zero or one/1098.7/black!35,5/1125/onemany/One or many/1125.2/bcol,6/1149.6/zeromany/Zero or many/1147.4/bcol}{
  \coordinate (lgA\i) at (1262.2,\yv);
  \coordinate (lgB\i) at (1367.5,\yv);
  \draw[line width=0.8pt, draw=\lc] (lgA\i) -- (lgB\i);
  \erdend{lgB\i}{-1}{\ty}{\lc}
  \node[lglabel] (lgL\i) at (1413.4,\ly) {\lab};
}
\end{tikzpicture}
\end{document}
